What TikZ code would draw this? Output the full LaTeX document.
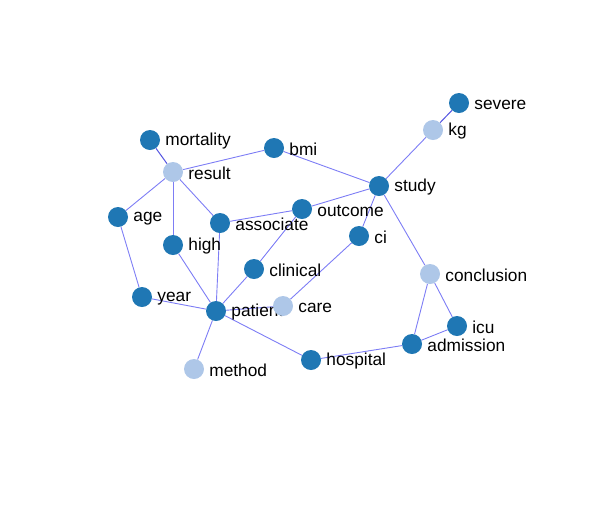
\documentclass[tikz,border=0pt]{standalone}
\usepackage{fontspec}
\setmainfont{Liberation Sans}
\usetikzlibrary{backgrounds}

\definecolor{darkblue}{RGB}{31,119,180}
\definecolor{lightblue}{RGB}{174,199,232}
\definecolor{linkblue}{RGB}{125,125,245}
\definecolor{strongblue}{RGB}{85,85,225}

\tikzset{
  term/.style={circle,fill=darkblue,minimum size=20pt,inner sep=0pt},
  rare/.style={term,fill=lightblue},
  every label/.style={inner sep=0pt,yshift=-1.5pt,font=\fontsize{17.3}{20}\selectfont},
  link/.style={draw=linkblue,line width=0.9pt},
  stronglink/.style={draw=strongblue,line width=1pt},
}

\begin{document}
\begin{tikzpicture}[x=1pt,y=-1pt,label distance=5pt]
    \useasboundingbox (0,0) rectangle (607,531);

    % Begriffe
    \node[term, label=right:severe] (severe) at (459,103) {};
    \node[rare, label=right:kg] (kg) at (433,130) {};
    \node[term, label=right:mortality] (mortality) at (150,140) {};
    \node[rare, label=right:result] (result) at (173,172) {};
    \node[term, label=right:bmi] (bmi) at (274,148) {};
    \node[term, label=right:study] (study) at (379,186) {};
    \node[term, label=right:age] (age) at (118,217) {};
    \node[term, label=right:associate] (associate) at (220,223) {};
    \node[term, label=right:outcome] (outcome) at (302,209) {};
    \node[term, label=right:ci] (ci) at (359,236) {};
    \node[term, label=right:high] (high) at (173,245) {};
    \node[term, label=right:clinical] (clinical) at (254,269) {};
    \node[rare, label=right:conclusion] (conclusion) at (430,274) {};
    \node[term, label=right:year] (year) at (142,297) {};
    \node[term, label=right:patient] (patient) at (216,311) {};
    \node[rare, label=right:care] (care) at (283,306) {};
    \node[term, label=right:icu] (icu) at (457,326) {};
    \node[term, label=right:admission] (admission) at (412,344) {};
    \node[term, label=right:hospital] (hospital) at (311,360) {};
    \node[rare, label=right:method] (method) at (194,369) {};

    % Verbindungen
    \begin{scope}[on background layer]
        \draw[stronglink] (mortality) -- (result);
        \draw[stronglink] (kg) -- (severe);
        \draw[link] (result) -- (bmi);
        \draw[link] (result) -- (age);
        \draw[link] (result) -- (high);
        \draw[link] (result) -- (associate);
        \draw[link] (bmi) -- (study);
        \draw[link] (outcome) -- (study);
        \draw[link] (associate) -- (outcome);
        \draw[link] (study) -- (ci);
        \draw[link] (study) -- (kg);
        \draw[link] (study) -- (conclusion);
        \draw[link] (age) -- (year);
        \draw[link] (year) -- (patient);
        \draw[link] (high) -- (patient);
        \draw[link] (associate) -- (patient);
        \draw[link] (clinical) -- (patient);
        \draw[link] (outcome) -- (clinical);
        \draw[link] (ci) -- (care);
        \draw[link] (patient) -- (care);
        \draw[link] (patient) -- (method);
        \draw[link] (patient) -- (hospital);
        \draw[link] (hospital) -- (admission);
        \draw[link] (admission) -- (icu);
        \draw[link] (admission) -- (conclusion);
        \draw[link] (conclusion) -- (icu);
    \end{scope}
\end{tikzpicture}
\end{document}
